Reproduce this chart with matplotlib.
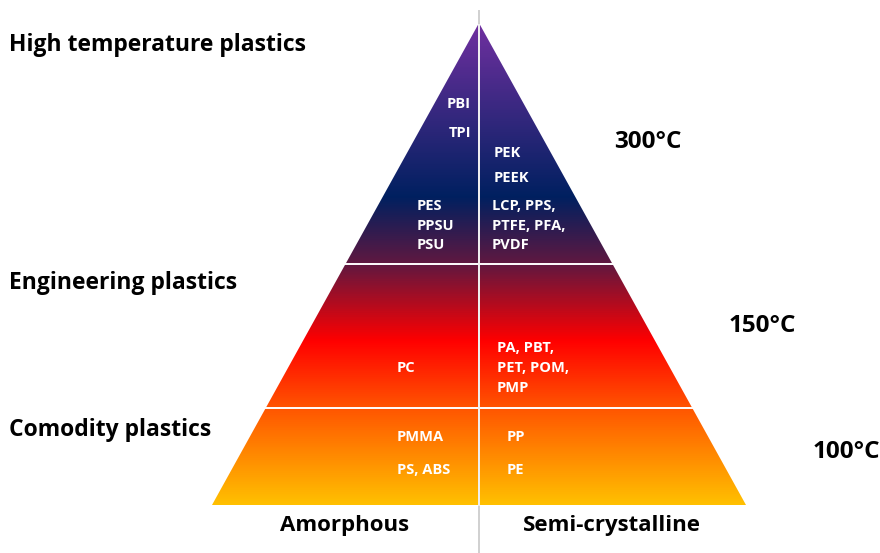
import matplotlib
matplotlib.use("Agg")
import matplotlib.pyplot as plt
import numpy as np
from matplotlib.colors import LinearSegmentedColormap
from matplotlib.patches import Polygon

# ---- data ----
tiers = ["High temperature plastics", "Engineering plastics", "Comodity plastics"]
temps = ["300°C", "150°C", "100°C"]
columns = ["Amorphous", "Semi-crystalline"]
amorphous_high_top = ["PBI", "TPI"]
amorphous_high = ["PES", "PPSU", "PSU"]
semi_high_top = ["PEK", "PEEK"]
semi_high = ["LCP, PPS,", "PTFE, PFA,", "PVDF"]
amorphous_eng = ["PC"]
semi_eng = ["PA, PBT,", "PET, POM,", "PMP"]
amorphous_com = ["PMMA", "PS, ABS"]
semi_com = ["PP", "PE"]

# ---- layout (pixel coordinates) ----
W, H = 880, 553
apex = (479, 23)
base_l, base_r, base_y = 212, 746, 505
split_y = [264, 408]

plt.rcParams['font.family'] = ['Open Sans', 'DejaVu Sans']
fig = plt.figure(figsize=(W / 100, H / 100), dpi=100)
ax = fig.add_axes([0, 0, 1, 1])
ax.set_xlim(0, W)
ax.set_ylim(H, 0)
ax.axis('off')

stops = [(0.0, '#7030A0'), (0.36, '#002060'), (0.5, '#601840'),
         (0.66, '#FF0000'), (0.80, '#FF5500'), (1.0, '#FFC000')]
cmap = LinearSegmentedColormap.from_list('pyr', stops)
grad = np.linspace(0, 1, 512).reshape(-1, 1)
im = ax.imshow(grad, cmap=cmap, aspect='auto',
               extent=[base_l, base_r, base_y, apex[1]], zorder=1)
tri = Polygon([apex, (base_l, base_y), (base_r, base_y)], closed=True,
              facecolor='none', edgecolor='none')
ax.add_patch(tri)
im.set_clip_path(tri)

# horizontal separators
def edge_x(y):
    t = (y - apex[1]) / (base_y - apex[1])
    return apex[0] + (base_l - apex[0]) * t, apex[0] + (base_r - apex[0]) * t

for y in split_y:
    xl, xr = edge_x(y)
    ax.plot([xl, xr], [y, y], color='white', lw=1.4, zorder=3)

# vertical divider
ax.plot([apex[0], apex[0]], [11, H], color='#D0D0D0', lw=1.4, zorder=2)
ax.plot([apex[0], apex[0]], [apex[1] + 2, base_y], color='#F0F0F0', lw=1.4, zorder=3)

# tier labels
big = dict(fontweight='bold', color='black', va='center')
for name, y in zip(tiers, [45, 283, 430]):
    ax.text(9, y, name, ha='left', fontsize=16.5, **big)
for t, (x, y) in zip(temps, [(648, 142), (762, 326), (846, 452)]):
    ax.text(x, y, t, ha='center', fontsize=17.5, **big)
for c, x in zip(columns, [345, 612]):
    ax.text(x, 525, c, ha='center', fontsize=16, **big)

small = dict(fontsize=10.5, fontweight='bold', color='white', va='center', zorder=4)

def stack(lines, x, y0, dy, ha='left'):
    for i, s in enumerate(lines):
        ax.text(x, y0 + i * dy, s, ha=ha, **small)

stack(amorphous_high_top, 471, 104, 29, ha='right')
stack(amorphous_high, 417, 206, 19.5)
stack(semi_high_top, 494, 153, 25)
stack(semi_high, 492, 206, 19.5)
stack(amorphous_eng, 397, 368, 20)
stack(semi_eng, 497, 348, 20)
stack(amorphous_com, 397, 437, 33)
stack(semi_com, 507, 437, 33)

fig.savefig('out.png', dpi=100)
